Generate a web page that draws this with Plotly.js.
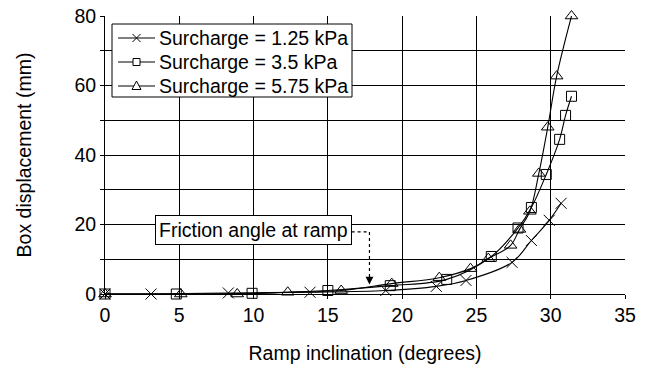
<!DOCTYPE html>
<html>
<head>
<meta charset="utf-8">
<script src="https://cdn.plot.ly/plotly-3.0.1.min.js"></script>
<style>
  html, body { margin: 0; padding: 0; background: #fff; }
  #chart { width: 647px; height: 369px; }
</style>
</head>
<body>
<div id="chart"></div>
<script>
// Ramp inclination (degrees) vs. box displacement (mm) for three surcharges
const inclination125 = [0, 3.1, 8.3, 13.8, 18.9, 22.3, 24.3, 27.4, 28.7, 29.9, 30.7];
const displacement125 = [0, 0, 0.3, 0.5, 1.0, 2.2, 3.9, 9.1, 15.4, 21.2, 26.1];

const inclination350 = [0, 4.8, 9.9, 15.0, 19.2, 23.0, 26.0, 27.8, 28.7, 29.7, 30.6, 31.0, 31.4];
const displacement350 = [0, 0, 0.2, 1.0, 2.4, 4.2, 10.8, 19.0, 24.9, 34.4, 44.5, 51.4, 56.9];

const inclination575 = [0, 5.1, 8.9, 12.3, 15.9, 19.3, 22.5, 24.6, 25.8, 27.3, 27.9, 28.6, 29.2, 29.8, 30.4, 31.4];
const displacement575 = [0, 0, 0, 0.5, 1.0, 3.0, 4.7, 7.3, 10.2, 14.0, 18.6, 23.8, 34.7, 48.0, 62.7, 80.0];

const seriesNames = ['Surcharge = 1.25 kPa', 'Surcharge = 3.5 kPa', 'Surcharge = 5.75 kPa'];
const yTickValues = [0, 10, 20, 30, 40, 50, 60, 70, 80];
const yTickLabels = ['0', '', '20', '', '40', '', '60', '', '80'];
const xTickValues = [0, 5, 10, 15, 20, 25, 30, 35];

const frictionAngle = 17.8;   // degrees, marked by the dotted arrow
const frictionLabel = 'Friction angle at ramp';

const FONT = 'Liberation Sans, Arial, Helvetica, sans-serif';
const FS = 19.5;
const W = 647, H = 369;
const M = { l: 105, r: 22, t: 16, b: 75 };
const plotW = W - M.l - M.r, plotH = H - M.t - M.b;

// page pixel -> paper fraction (for the hand-built legend)
const px = v => (v - M.l) / plotW;
const py = v => (M.t + plotH - v) / plotH;

const lineStyle = { color: '#000', width: 1.1, shape: 'spline', smoothing: 1 };
const markerLine = { color: '#000', width: 1 };

const traces = [
  {
    x: inclination125, y: displacement125, name: seriesNames[0],
    mode: 'lines+markers', line: lineStyle, cliponaxis: false,
    marker: { symbol: 'x-thin-open', size: 11, color: '#000', line: markerLine }
  },
  {
    x: inclination350, y: displacement350, name: seriesNames[1],
    mode: 'lines+markers', line: lineStyle, cliponaxis: false,
    marker: { symbol: 'square-open', size: 10, color: '#000', line: markerLine }
  },
  {
    x: inclination575, y: displacement575, name: seriesNames[2],
    mode: 'lines+markers', line: lineStyle, cliponaxis: false,
    marker: { symbol: 'triangle-up-open', size: 11, color: '#000', line: markerLine }
  }
];

// Legend: framed box with a line sample, a symbol and a label per series
const legendBox = { x0: 112, x1: 352, y0: 24, y1: 97 };
const legendRowY = [38, 62, 86];
const sampleX0 = 118, sampleX1 = 155, sampleCx = 136.5, labelX = 157;

function symbolPath(kind, cx, cy) {
  if (kind === 'x') {
    const r = 4;
    return `M ${px(cx - r)} ${py(cy - r)} L ${px(cx + r)} ${py(cy + r)} M ${px(cx - r)} ${py(cy + r)} L ${px(cx + r)} ${py(cy - r)}`;
  }
  if (kind === 'square') {
    const r = 3.5;
    return `M ${px(cx - r)} ${py(cy - r)} L ${px(cx + r)} ${py(cy - r)} L ${px(cx + r)} ${py(cy + r)} L ${px(cx - r)} ${py(cy + r)} Z`;
  }
  return `M ${px(cx)} ${py(cy - 5)} L ${px(cx + 4.5)} ${py(cy + 3.5)} L ${px(cx - 4.5)} ${py(cy + 3.5)} Z`;
}
const legendSymbols = ['x', 'square', 'triangle'];

const shapes = [
  // dotted leader from the label to the friction angle
  {
    type: 'path', xref: 'x', yref: 'y', layer: 'above',
    path: 'M 16.6 17.9 L ' + frictionAngle + ' 17.9 L ' + frictionAngle + ' 6',
    line: { color: '#000', width: 1.2, dash: 'dot' }
  },
  {
    type: 'rect', xref: 'paper', yref: 'paper', layer: 'above',
    x0: px(legendBox.x0), x1: px(legendBox.x1), y0: py(legendBox.y1), y1: py(legendBox.y0),
    fillcolor: '#fff', line: { color: '#000', width: 1 }
  }
];
const annotations = [
  {
    x: 10, y: 18.5, xref: 'x', yref: 'y', text: frictionLabel, showarrow: false,
    font: { family: FONT, size: FS, color: '#000' },
    bgcolor: '#fff', bordercolor: '#000', borderwidth: 1, borderpad: 3
  },
  {
    x: frictionAngle, y: 2.7, xref: 'x', yref: 'y', text: '',
    showarrow: true, arrowhead: 2, arrowsize: 1.3, arrowwidth: 1.2, arrowcolor: '#000',
    ax: 0, ay: -12, standoff: 0
  }
];

seriesNames.forEach((name, i) => {
  const cy = legendRowY[i];
  shapes.push({
    type: 'line', xref: 'paper', yref: 'paper', layer: 'above',
    x0: px(sampleX0), x1: px(sampleX1), y0: py(cy), y1: py(cy),
    line: { color: '#000', width: 1 }
  });
  shapes.push({
    type: 'path', xref: 'paper', yref: 'paper', layer: 'above',
    path: symbolPath(legendSymbols[i], sampleCx, cy),
    fillcolor: legendSymbols[i] === 'x' ? 'rgba(0,0,0,0)' : '#fff',
    line: { color: '#000', width: 1 }
  });
  annotations.push({
    x: px(labelX), y: py(cy), xref: 'paper', yref: 'paper',
    xanchor: 'left', yanchor: 'middle', text: name, showarrow: false,
    font: { family: FONT, size: FS, color: '#000' }
  });
});

const layout = {
  width: W, height: H,
  margin: M,
  paper_bgcolor: '#fff', plot_bgcolor: '#fff',
  font: { family: FONT, size: FS, color: '#000' },
  showlegend: false,
  xaxis: {
    range: [0, 35], tickvals: xTickValues,
    showline: true, linecolor: '#000', linewidth: 1,
    ticks: 'outside', ticklen: 4, tickcolor: '#000',
    showgrid: true, gridcolor: '#000', gridwidth: 1, zeroline: false,
    tickfont: { family: FONT, size: FS, color: '#000' },
    title: { text: 'Ramp inclination (degrees)', font: { family: FONT, size: FS, color: '#000' }, standoff: 20 }
  },
  yaxis: {
    range: [0, 80], tickvals: yTickValues, ticktext: yTickLabels,
    showline: true, linecolor: '#000', linewidth: 1,
    ticks: 'outside', ticklen: 4, tickcolor: '#000',
    showgrid: true, gridcolor: '#000', gridwidth: 1, zeroline: false,
    tickfont: { family: FONT, size: FS, color: '#000' },
    title: { text: 'Box displacement (mm)', font: { family: FONT, size: FS, color: '#000' }, standoff: 37 }
  },
  shapes: shapes,
  annotations: annotations
};

Plotly.newPlot('chart', traces, layout, { staticPlot: true, displayModeBar: false });
</script>
</body>
</html>
